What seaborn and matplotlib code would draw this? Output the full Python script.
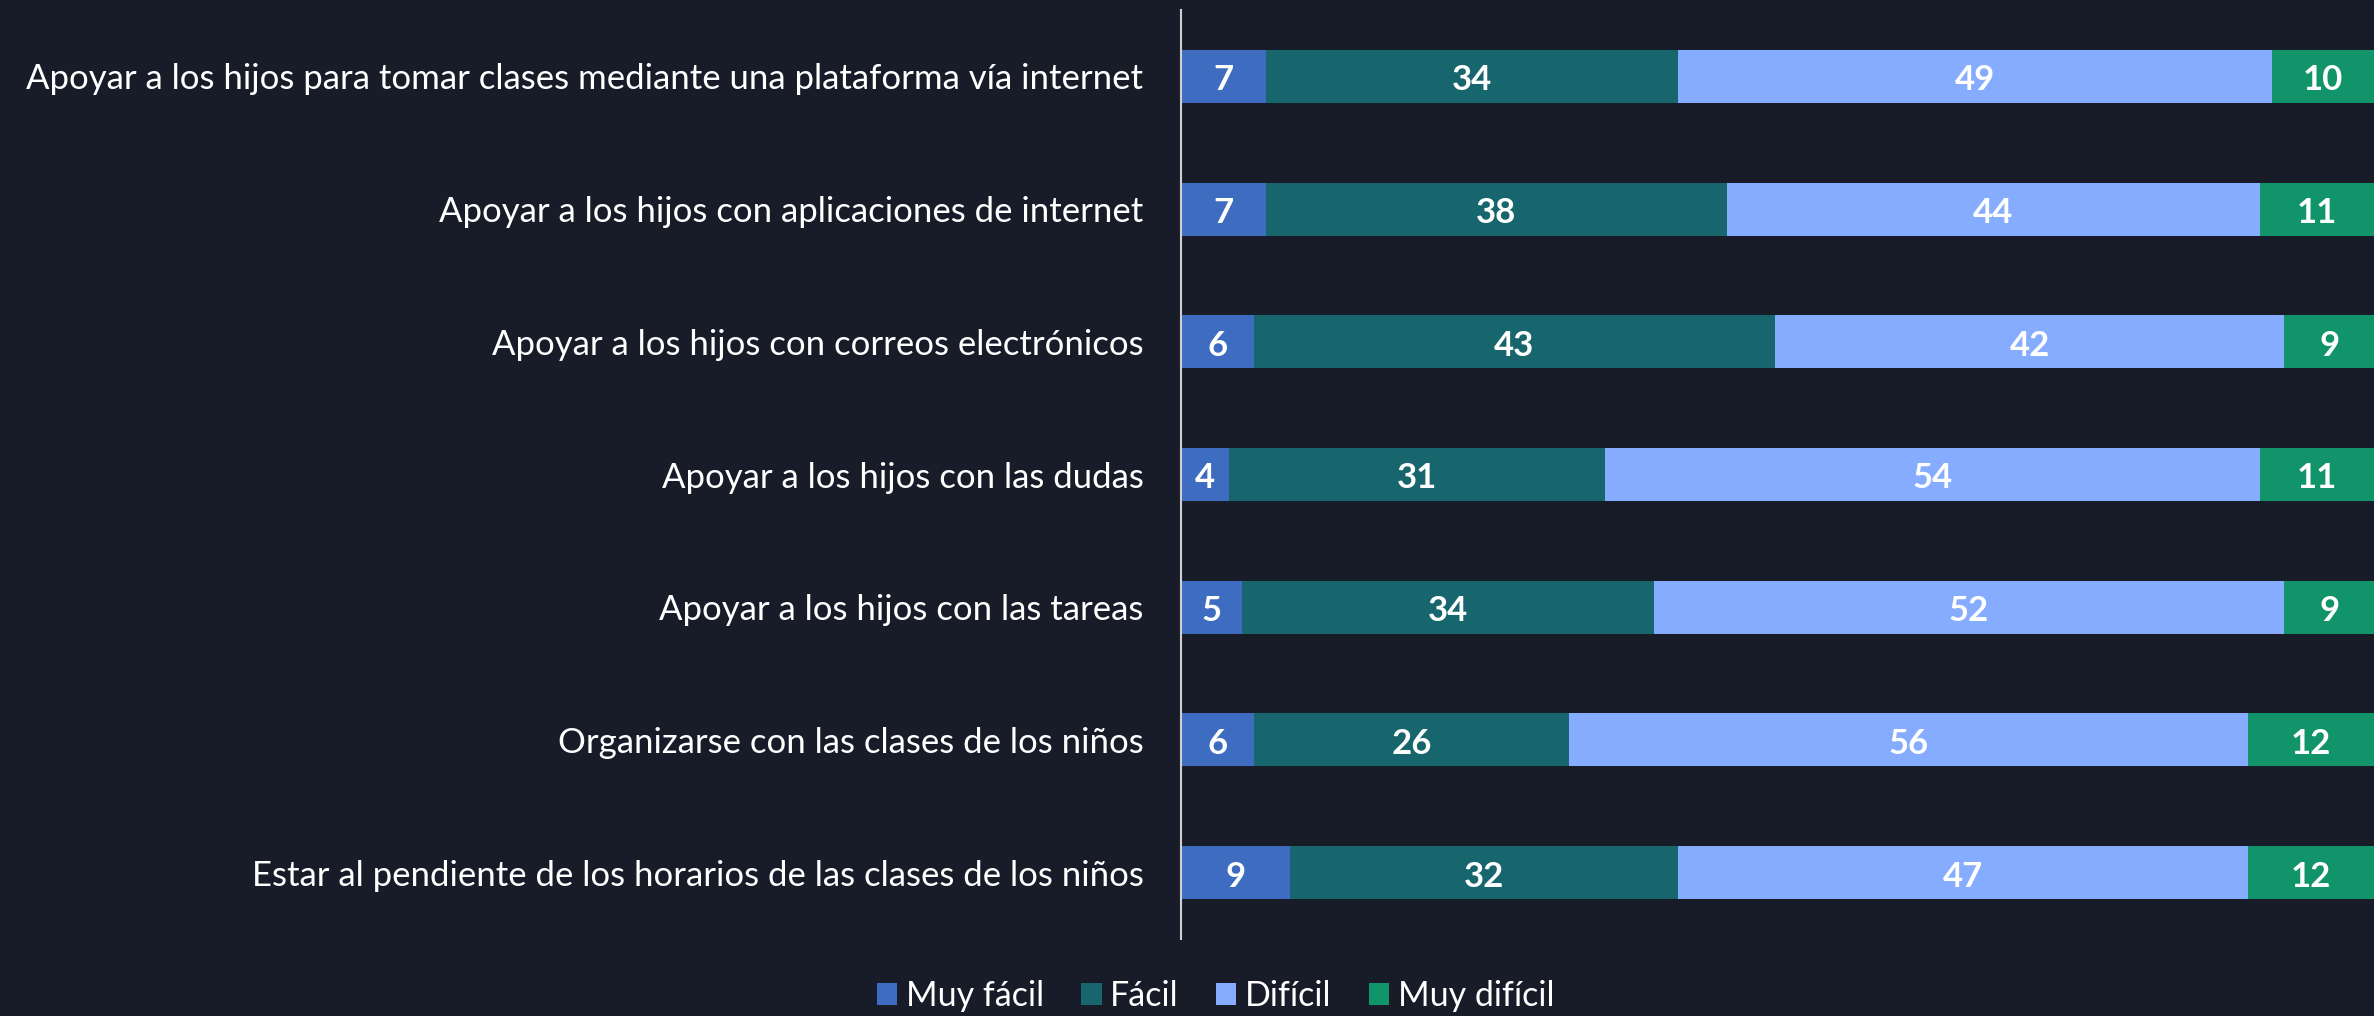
import matplotlib
matplotlib.use("Agg")
import matplotlib.pyplot as plt
from matplotlib.patches import Patch
import seaborn as sns
import pandas as pd
import numpy as np

categories = [
    "Apoyar a los hijos para tomar clases mediante una plataforma vía internet",
    "Apoyar a los hijos con aplicaciones de internet",
    "Apoyar a los hijos con correos electrónicos",
    "Apoyar a los hijos con las dudas",
    "Apoyar a los hijos con las tareas",
    "Organizarse con las clases de los niños",
    "Estar al pendiente de los horarios de las clases de los niños",
]
series_names = ["Muy fácil", "Fácil", "Difícil", "Muy difícil"]
muy_facil = [7, 7, 6, 4, 5, 6, 9]
facil = [34, 38, 43, 31, 34, 26, 32]
dificil = [49, 44, 42, 54, 52, 56, 47]
muy_dificil = [10, 11, 9, 11, 9, 12, 12]
colors = ["#3d6cc0", "#18666d", "#85acff", "#12946b"]

BG = "#171c28"
XMAX = 98.4  # the chart is cut off slightly on the right
sns.set_theme(style="white")
plt.rcParams["font.family"] = ["Lato", "DejaVu Sans"]

values = np.array([muy_facil, facil, dificil, muy_dificil], dtype=float)
cum = np.cumsum(values, axis=0)

fig = plt.figure(figsize=(23.74, 10.16), dpi=100, facecolor=BG)
ax = fig.add_axes([1181 / 2374, 1 - 939 / 1016, 1 - 1181 / 2374, (939 - 10) / 1016])
ax.set_facecolor(BG)

for i in reversed(range(4)):
    df = pd.DataFrame({"cat": categories, "val": cum[i]})
    sns.barplot(data=df, x="val", y="cat", color=colors[i], width=0.4,
                orient="h", ax=ax, saturation=1, edgecolor="none")

for i in range(4):
    for j in range(len(categories)):
        v = values[i, j]
        left = cum[i, j] - v
        right = min(cum[i, j], XMAX)
        ax.text((left + right) / 2, j + 0.03, f"{int(v)}", ha="center", va="center",
                color="white", fontsize=25, fontweight="bold")

ax.set_xlim(0, XMAX)
ax.set_ylim(6.5, -0.5)
ax.set_xlabel("")
ax.set_ylabel("")
ax.set_xticks([])
ax.tick_params(axis="y", length=0, pad=27, labelsize=25, labelcolor="white")
for s in ["top", "right", "bottom"]:
    ax.spines[s].set_visible(False)
ax.spines["left"].set_color("#d0d0d0")
ax.spines["left"].set_linewidth(1.5)

handles = [Patch(facecolor=c, edgecolor="none", label=n) for c, n in zip(colors, series_names)]
fig.legend(handles=handles, loc="center", bbox_to_anchor=(0.512, 1 - 996 / 1016), ncol=4,
           frameon=False, fontsize=24.5, labelcolor="white", handlelength=0.6,
           handleheight=0.65, handletextpad=0.25, columnspacing=1.1)

fig.savefig("out.png", dpi=100, facecolor=BG)
